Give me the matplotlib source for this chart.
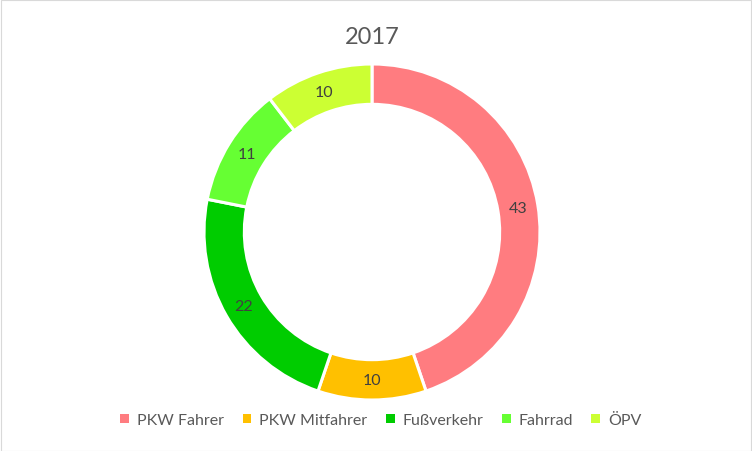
import matplotlib
matplotlib.use("Agg")
import matplotlib.pyplot as plt
from matplotlib.patches import Patch, Rectangle

categories = ["PKW Fahrer", "PKW Mitfahrer", "Fußverkehr", "Fahrrad", "ÖPV"]
values = [43, 10, 22, 11, 10]
colors = ["#FF7C80", "#FFC000", "#00CC00", "#66FF33", "#CCFF33"]
title = "2017"

plt.rcParams['font.family'] = ['Lato', 'DejaVu Sans']
W, H = 752, 452
fig = plt.figure(figsize=(W / 100, H / 100), dpi=100)
fig.patch.set_facecolor("white")
fig.add_artist(Rectangle((0.5 / W, 0.5 / H), 1 - 1.5 / W, 1 - 1.5 / H, transform=fig.transFigure,
                         fill=False, edgecolor="#D9D9D9", linewidth=0.8))

cx, cy, r = 372, 233, 168
ax = fig.add_axes([(cx - r) / W, (H - cy - r) / H, 2 * r / W, 2 * r / H])
ax.set_aspect("equal")
wedges, texts = ax.pie(values, colors=colors, startangle=90, counterclock=False, radius=1,
                       wedgeprops=dict(width=0.24, edgecolor="white", linewidth=2.2),
                       labels=[str(v) for v in values], labeldistance=0.88,
                       textprops=dict(color="#404040", fontsize=11.5, ha="center", va="center"))
for t in texts:
    t.set_ha("center")
    t.set_va("center")
ax.set_xlim(-1, 1)
ax.set_ylim(-1, 1)
ax.axis("off")

fig.text(cx / W, 1 - 37 / H, title, ha="center", va="center", fontsize=17, color="#595959")

handles = [Patch(facecolor=c, edgecolor="none") for c in colors]
fig.legend(handles, categories, loc="center", bbox_to_anchor=(381 / W, 1 - 421 / H), ncol=5,
           frameon=False, fontsize=11.5, labelcolor="#595959", handlelength=0.55, handleheight=0.55,
           handletextpad=0.5, columnspacing=1.15)

fig.savefig("out.png", dpi=100, facecolor="white")
